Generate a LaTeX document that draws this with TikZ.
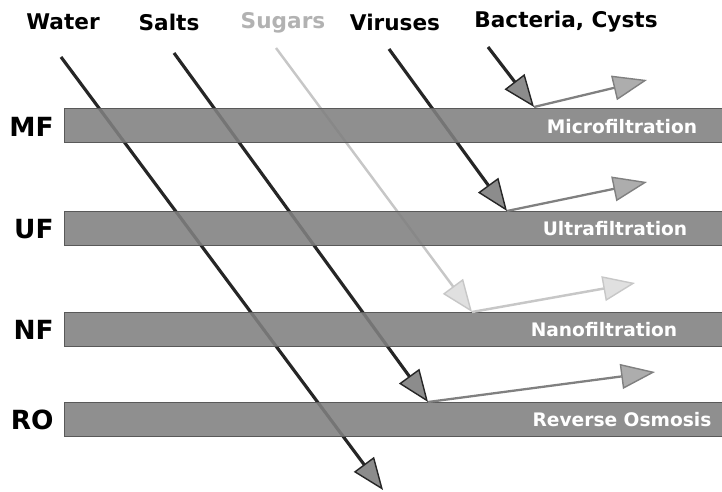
\documentclass[tikz,border=0pt]{standalone}
\usepackage{fontspec}
\setmainfont{DejaVu Sans}
\usetikzlibrary{arrows.meta}

\begin{document}
\begin{tikzpicture}[
    x=0.02cm, y=-0.02cm,
    membrane/.style={rectangle, fill=black!50, fill opacity=0.88, draw=black!65, minimum width=13.16cm, minimum height=0.68cm, anchor=west, inner sep=0pt},
    sizelabel/.style={anchor=east, inner sep=0pt, font=\fontsize{15}{17}\selectfont\bfseries},
    species/.style={font=\fontsize{12.3}{14}\selectfont\bfseries},
    tag/.style={text=white, font=\fontsize{10.6}{12}\selectfont\bfseries},
    feed/.style={draw=black!85, line width=1.8pt, -{Triangle[length=0.64cm, width=0.5cm, line width=0.8pt, fill=black!45]}},
    bounce/.style={draw=black!50, line width=1.3pt, -{Triangle[length=0.68cm, width=0.5cm, line width=0.8pt, fill=black!32]}},
    faint/.style={draw=black!22, line width=1.4pt, -{Triangle[length=0.64cm, width=0.5cm, line width=0.8pt, fill=black!12]}}
]
    \useasboundingbox (0,0) rectangle (722,492);

    % What goes in
    \node[species] (water) at (63,22) {Water};
    \node[species] (salts) at (169,22) {Salts};
    \node[species, text=black!30] (sugars) at (283,23) {Sugars};
    \node[species] (viruses) at (395,22) {Viruses};
    \node[species] (bacteria) at (566,22) {Bacteria, Cysts};

    % Start and end points
    \coordinate (w0) at (61,57);   \coordinate (w1) at (383,490);
    \coordinate (s0) at (174,53);  \coordinate (s1) at (428,402);
    \coordinate (g0) at (276,48);  \coordinate (g1) at (472,312);
    \coordinate (v0) at (389,49);  \coordinate (v1) at (507,211);
    \coordinate (b0) at (488,47);  \coordinate (b1) at (534,107);
    \coordinate (s2) at (655,372);
    \coordinate (g2) at (635,283);
    \coordinate (v2) at (647,182);
    \coordinate (b2) at (647,80);

    % Feed arrows
    \draw[feed] (w0) -- (w1);
    \draw[feed] (s0) -- (s1);
    \draw[faint] (g0) -- (g1);
    \draw[feed] (v0) -- (v1);
    \draw[feed] (b0) -- (b1);

    % Membranes
    \node[membrane] (mf) at (64,125) {};
    \node[membrane] (uf) at (64,228.5) {};
    \node[membrane] (nf) at (64,329.5) {};
    \node[membrane] (ro) at (64,419) {};

    \node[sizelabel] (mflab) at (54,127) {MF};
    \node[sizelabel] (uflab) at (54,229) {UF};
    \node[sizelabel] (nflab) at (54,330) {NF};
    \node[sizelabel] (rolab) at (54,420) {RO};

    \node[tag] (mftag) at (622,127) {Microfiltration};
    \node[tag] (uftag) at (615,229) {Ultrafiltration};
    \node[tag] (nftag) at (604,330) {Nanofiltration};
    \node[tag] (rotag) at (622,420) {Reverse Osmosis};

    % Rejected
    \draw[bounce] (b1) -- (b2);
    \draw[bounce] (v1) -- (v2);
    \draw[faint] (g1) -- (g2);
    \draw[bounce] (s1) -- (s2);
\end{tikzpicture}
\end{document}
